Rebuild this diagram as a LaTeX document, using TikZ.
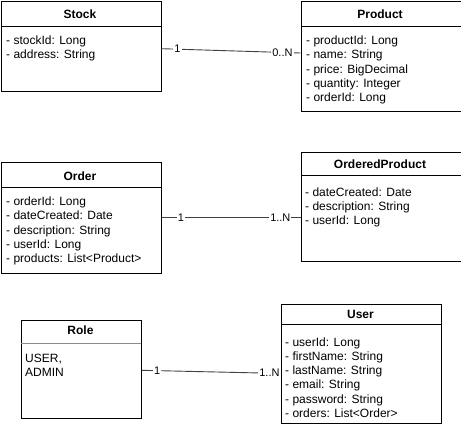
\documentclass[tikz,border=0pt]{standalone}
\usepackage{fontspec}
\setmainfont{Liberation Sans}
\begin{document}
\begin{tikzpicture}[x=1pt,y=-1pt,
  box/.style={draw=black,line width=1pt},
  hline/.style={line width=1pt},
  ghline/.style={line width=0.8pt,draw=black!45},
  title/.style={font=\fontsize{12}{14}\selectfont\bfseries,inner sep=0pt},
  attrs/.style={font=\fontsize{12}{14.2}\selectfont,align=left,anchor=north west,inner sep=0pt},
  conn/.style={line width=0.9pt,draw=black!75},
  mult/.style={font=\fontsize{11}{12}\selectfont,fill=white,inner sep=1pt}]
\useasboundingbox (0,0) rectangle (461,426);
% Stock
\node[box,anchor=north west,minimum width=160pt,minimum height=90pt,inner sep=0pt] (stock) at (0.5,0.5) {};
\draw[hline] (0.5,26) -- (160.5,26);
\node[title] (stockt) at (80,14) {Stock};
\node[attrs] (stocka) at (6,34.5) {\rule{0pt}{10pt}- stockId: Long\\- address: String};
% Product
\node[box,anchor=north west,minimum width=160pt,minimum height=110pt,inner sep=0pt] (product) at (300.5,0.5) {};
\draw[hline] (300.5,26) -- (460.5,26);
\node[title] (productt) at (380,14) {Product};
\node[attrs] (producta) at (306,34.5) {\rule{0pt}{10pt}- productId: Long\\- name: String\\- price: BigDecimal\\- quantity: Integer\\- orderId: Long};
% Order
\node[box,anchor=north west,minimum width=160pt,minimum height=111pt,inner sep=0pt] (order) at (0.5,162) {};
\draw[hline] (0.5,187) -- (160.5,187);
\node[title] (ordert) at (80,176) {Order};
\node[attrs] (ordera) at (6,195.5) {\rule{0pt}{10pt}- orderId: Long\\- dateCreated: Date\\- description: String\\- userId: Long\\- products: List<Product>};
% OrderedProduct
\node[box,anchor=north west,minimum width=160pt,minimum height=109pt,inner sep=0pt] (oprod) at (300.5,152) {};
\draw[hline] (300.5,175) -- (460.5,175);
\node[title] (oprodt) at (380,164) {OrderedProduct};
\node[attrs] (oproda) at (305,186) {\rule{0pt}{10pt}- dateCreated: Date\\- description: String\\- userId: Long};
% Role
\node[box,anchor=north west,minimum width=120.5pt,minimum height=98pt,inner sep=0pt] (role) at (20.5,319.5) {};
\draw[ghline] (21,343) -- (140.5,343);
\node[title] (rolet) at (80.5,330.5) {Role};
\node[attrs] (rolea) at (25,352) {\rule{0pt}{10pt}USER,\\ADMIN};
% User
\node[box,anchor=north west,minimum width=160.5pt,minimum height=119.5pt,inner sep=0pt] (user) at (280.5,303.5) {};
\draw[hline] (280.5,324) -- (441,324);
\node[title] (usert) at (360.5,314.5) {User};
\node[attrs] (usera) at (285,336) {\rule{0pt}{10pt}- userId: Long\\- firstName: String\\- lastName: String\\- email: String\\- password: String\\- orders: List<Order>};
% Connectors
\draw[conn] ([yshift=-2.7pt]stock.east) -- node[mult,pos=0.115] (m1) {1} node[mult,pos=0.87] (m2) {0..N} ([yshift=3pt]product.east -| product.west);
\draw[conn] ([yshift=0.5pt]order.east) -- node[mult,pos=0.14] (m3) {1} node[mult,pos=0.855] (m4) {1..N} ([yshift=-10.5pt]oprod.west);
\draw[conn] ([yshift=-1.3pt]role.east) -- node[mult,pos=0.11] (m5) {1} node[mult,pos=0.92] (m6) {1..N} ([yshift=-9.7pt]user.west);
\end{tikzpicture}
\end{document}
